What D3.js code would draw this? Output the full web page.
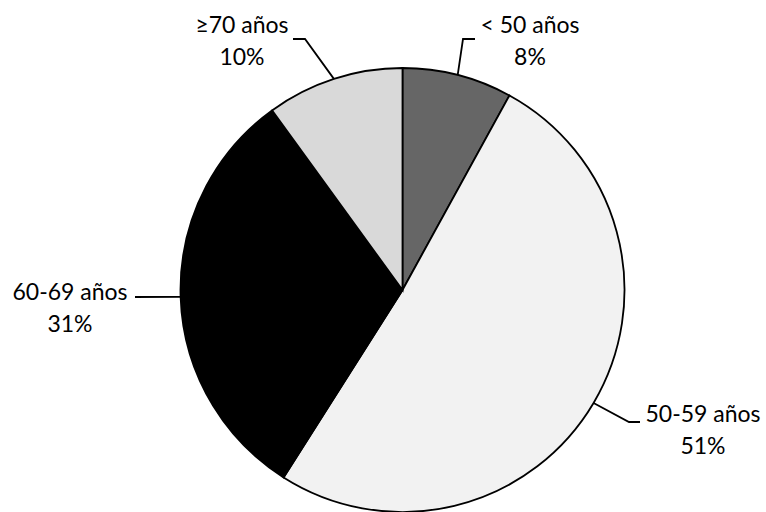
<!DOCTYPE html>
<html>
<head>
<meta charset="utf-8">
<script src="https://cdn.jsdelivr.net/npm/d3@7"></script>
<style>
  body { margin: 0; background: #fff; }
  text { font-family: Lato, "Open Sans", sans-serif; font-size: 23px; fill: #000; }
</style>
</head>
<body>
<div id="chart"></div>
<script>
// data
var categories = ["< 50 años", "50-59 años", "60-69 años", "\u226570 años"];
var percents = [8, 51, 31, 10];
var colors = ["#666666", "#f2f2f2", "#000000", "#d9d9d9"];

var width = 766, height = 512;
var cx = 402.5, cy = 290, radius = 222;

// label layout: text centre, and where the leader leaves the text
var labelPos = [
  { x: 530, y: 25, lx: 475, ly: 39, ex: 463 },
  { x: 703, y: 414, lx: 640, ly: 422, ex: 629 },
  { x: 70, y: 292, lx: 135, ly: 297, ex: null },
  { x: 242, y: 25, lx: 293, ly: 39, ex: 305 }
];

var svg = d3.select("#chart").append("svg")
  .attr("width", width)
  .attr("height", height);

var pie = d3.pie().sort(null).value(function(d) { return d; });
var arcs = pie(percents);

var arc = d3.arc().innerRadius(0).outerRadius(radius);

var g = svg.append("g").attr("transform", "translate(" + cx + "," + cy + ")");

g.selectAll("path.slice")
  .data(arcs)
  .enter().append("path")
  .attr("class", "slice")
  .attr("d", arc)
  .attr("fill", function(d, i) { return colors[i]; })
  .attr("stroke", "#000")
  .attr("stroke-width", 1.8);

// leader lines + labels
arcs.forEach(function(d, i) {
  var a = (d.startAngle + d.endAngle) / 2;
  var px = cx + radius * Math.sin(a), py = cy - radius * Math.cos(a);
  var p = labelPos[i];
  var pts = [[p.lx, p.ly]];
  if (p.ex !== null) pts.push([p.ex, p.ly]);
  pts.push([px, py]);
  svg.append("path")
    .attr("d", d3.line()(pts))
    .attr("fill", "none")
    .attr("stroke", "#000")
    .attr("stroke-width", 1.8);

  var t = svg.append("text")
    .attr("text-anchor", "middle");
  t.append("tspan").attr("x", p.x).attr("y", p.y).attr("dy", "0.35em").text(categories[i]);
  t.append("tspan").attr("x", p.x).attr("y", p.y + 32).attr("dy", "0.35em").text(percents[i] + "%");
});
</script>
</body>
</html>
